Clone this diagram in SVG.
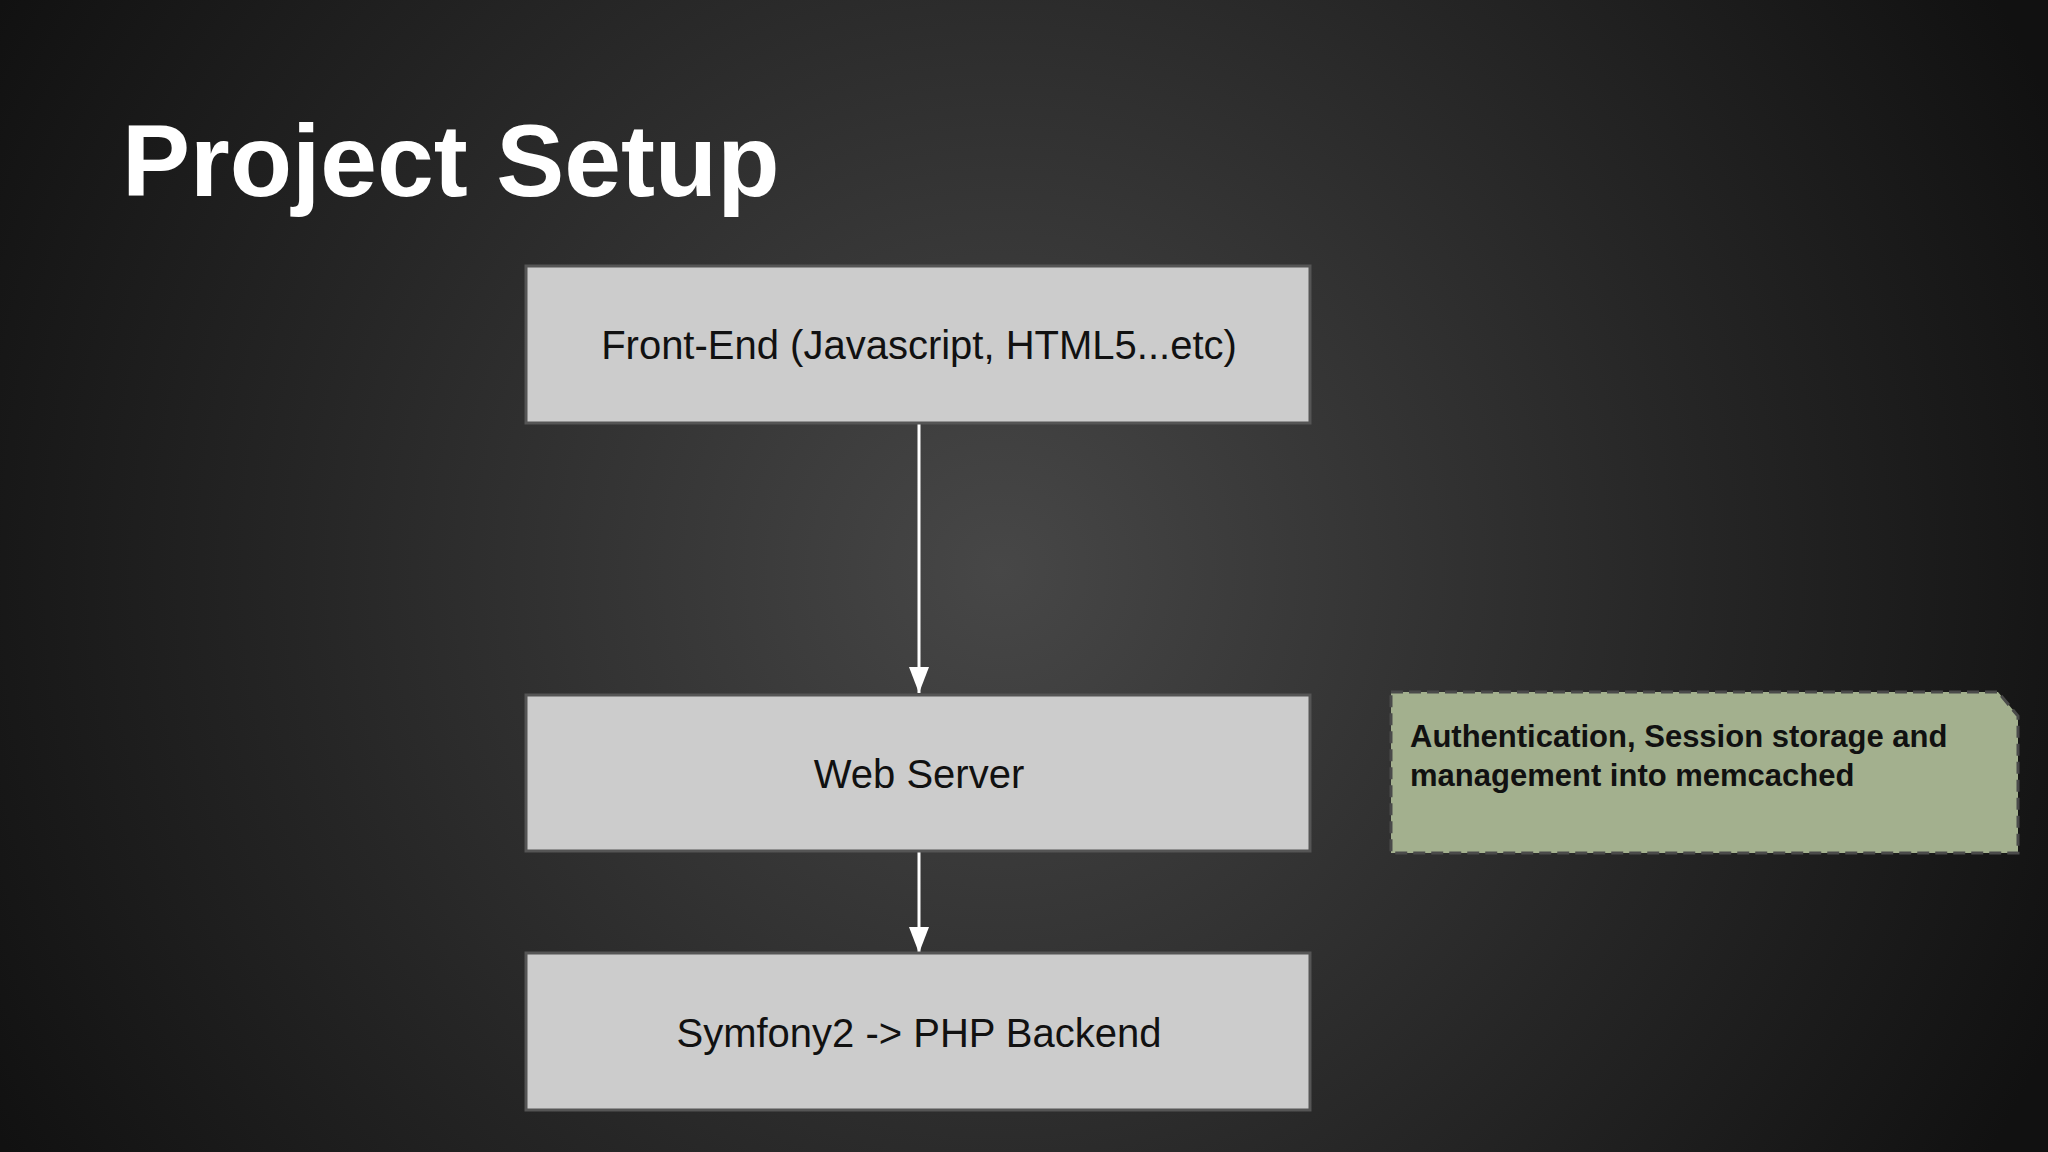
<svg xmlns="http://www.w3.org/2000/svg" width="2048" height="1152" viewBox="0 0 2048 1152">
<defs>
<radialGradient id="bg" cx="1000" cy="570" r="1150" gradientUnits="userSpaceOnUse">
<stop offset="0" stop-color="#474747"/><stop offset="0.6" stop-color="#262626"/><stop offset="1" stop-color="#111"/>
</radialGradient>
<marker id="arr" viewBox="0 0 20 26" refX="10" refY="26" markerWidth="20" markerHeight="26" markerUnits="userSpaceOnUse" orient="0">
<path d="M0,0 L20,0 L10,26 Z" fill="#fff"/>
</marker>
<style>
.box{fill:#cccccc;stroke:#555;stroke-width:3}
.bt{font-family:"Liberation Sans",Arial,sans-serif;font-size:40px;fill:#111;text-anchor:middle}
.con{stroke:#fff;stroke-width:3;fill:none;marker-end:url(#arr)}
</style>
</defs>
<rect width="2048" height="1152" fill="url(#bg)"/>
<text x="122" y="196" font-family="Liberation Sans,Arial,sans-serif" font-weight="bold" font-size="102" fill="#fff">Project Setup</text>
<g id="connectors">
<line class="con" x1="919" y1="423" x2="919" y2="693"/>
<line class="con" x1="919" y1="836" x2="919" y2="953"/>
</g>
<g id="frontend"><rect class="box" x="526" y="266" width="784" height="157"/><text class="bt" x="919" y="359">Front-End (Javascript, HTML5...etc)</text></g>
<g id="webserver"><rect class="box" x="526" y="695" width="784" height="156"/><text class="bt" x="919" y="788">Web Server</text></g>
<g id="symfony"><rect class="box" x="526" y="953" width="784" height="157"/><text class="bt" x="919" y="1047">Symfony2 -&gt; PHP Backend</text></g>
<g id="note">
<path d="M1391,692 L1998,692 L2018,716 L2018,853 L1391,853 Z" fill="#a3b08e" stroke="#4a4a4a" stroke-width="3" stroke-dasharray="12,6"/>
<text font-family="Liberation Sans,Arial,sans-serif" font-weight="bold" font-size="31" fill="#111"><tspan x="1410" y="747">Authentication, Session storage and</tspan><tspan x="1410" y="786">management into memcached</tspan></text>
</g>
</svg>
